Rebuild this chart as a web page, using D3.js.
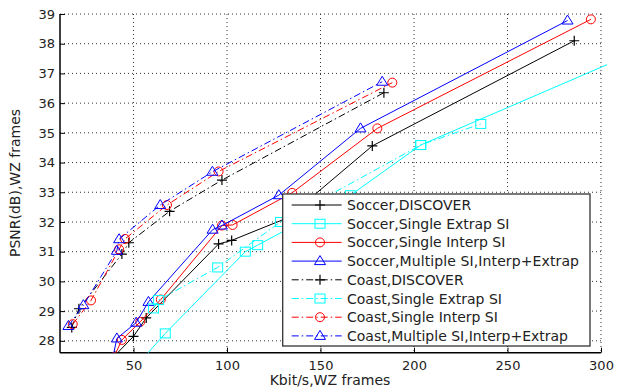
<!DOCTYPE html>
<html>
<head>
<meta charset="utf-8">
<script src="https://cdn.jsdelivr.net/npm/d3@7"></script>
<style>
body{margin:0;background:#fff;}
text{font-family:"DejaVu Sans",sans-serif;fill:#222;}
</style>
</head>
<body>
<script>
// series data, [kbit/s, PSNR dB]
var soccerDiscover=[[40,27.5],[50,28.15],[56.8,28.77],[95.5,31.26],[102.5,31.38],[132,32.13],[177.7,34.56],[285.7,38.1]];
var soccerExtrap=[[55,27.4],[67,28.25],[109.8,31.0],[116.4,31.22],[166,32.9],[203.6,34.59],[320,37.75]];
var soccerInterp=[[39.5,27.45],[43.8,28.03],[53.6,28.64],[64.6,29.39],[97.3,31.88],[103,31.9],[134.8,32.98],[180.4,35.15],[294.6,38.82]];
var soccerMulti=[[38.5,27.3],[41.1,28.08],[51.4,28.61],[58,29.31],[92.3,31.74],[97.3,31.88],[127.7,32.9],[171.4,35.15],[282.1,38.78]];
var coastDiscover=[[17,28.45],[20.8,29.08],[43.8,30.92],[47.5,31.3],[69.3,32.36],[97.3,33.41],[183.9,36.35]];
var coastExtrap=[[60.7,29.09],[63.4,29.37],[95,30.47],[128.6,32.0],[203.6,34.59],[235.7,35.3]];
var coastInterp=[[17.5,28.56],[27.3,29.36],[42.3,31.08],[45.5,31.43],[67.9,32.57],[95.5,33.7],[188.4,36.69]];
var coastMulti=[[15.2,28.5],[23.2,29.2],[41.1,31.03],[42.3,31.42],[64.3,32.57],[92.2,33.69],[183,36.72]];

var legendLabels=["Soccer,DISCOVER","Soccer,Single Extrap SI","Soccer,Single Interp SI","Soccer,Multiple SI,Interp+Extrap","Coast,DISCOVER","Coast,Single Extrap SI","Coast,Single Interp SI","Coast,Multiple SI,Interp+Extrap"];
var xTicks=[50,100,150,200,250,300];
var yTicks=[28,29,30,31,32,33,34,35,36,37,38,39];

var series=[
 {data:soccerDiscover,color:"#000",marker:"plus",dash:null},
 {data:soccerExtrap,color:"#00ffff",marker:"square",dash:null},
 {data:soccerInterp,color:"#ff0000",marker:"circle",dash:null},
 {data:soccerMulti,color:"#0000ff",marker:"triangle",dash:null},
 {data:coastDiscover,color:"#000",marker:"plus",dash:"7,3,1.5,3"},
 {data:coastExtrap,color:"#00ffff",marker:"square",dash:"7,3,1.5,3"},
 {data:coastInterp,color:"#ff0000",marker:"circle",dash:"7,3,1.5,3"},
 {data:coastMulti,color:"#0000ff",marker:"triangle",dash:"7,3,1.5,3"}
];

var width=623,height=389;
var pLeft=60,pRight=601,pTop=14,pBottom=352.7;

var svg=d3.select("body").append("svg").attr("width",width).attr("height",height);

var xscale=d3.scaleLinear().domain([10.7,300]).range([pLeft,pRight]);
var yscale=d3.scaleLinear().domain([27.6,39]).range([pBottom,pTop]);

svg.append("clipPath").attr("id","plotclip").append("rect")
 .attr("x",pLeft).attr("y",pTop-6).attr("width",pRight-pLeft+6).attr("height",pBottom-pTop+6);

// dotted grid
var grid=svg.append("g").attr("stroke","#333").attr("stroke-width",1).attr("stroke-dasharray","1,3");
grid.selectAll(".gx").data(xTicks).enter().append("line")
 .attr("x1",function(d){return xscale(d);}).attr("x2",function(d){return xscale(d);})
 .attr("y1",pTop).attr("y2",pBottom);
grid.selectAll(".gy").data(yTicks).enter().append("line")
 .attr("x1",pLeft).attr("x2",pRight)
 .attr("y1",function(d){return yscale(d);}).attr("y2",function(d){return yscale(d);});

// axes, ticks inside like matlab
var xaxis=d3.axisBottom(xscale).tickValues(xTicks).tickSizeInner(-5).tickSizeOuter(0).tickPadding(8);
var yaxis=d3.axisLeft(yscale).tickValues(yTicks).tickSizeInner(-5).tickSizeOuter(0).tickPadding(5);
var gx=svg.append("g").attr("transform","translate(0,"+pBottom+")").call(xaxis);
var gy=svg.append("g").attr("transform","translate("+pLeft+",0)").call(yaxis);
gx.select(".domain").attr("d","M"+pLeft+",0H"+pRight).attr("stroke","#000").attr("stroke-width",1.5);
gy.select(".domain").attr("d","M0,"+pTop+"V"+pBottom).attr("stroke","#000").attr("stroke-width",1.5);
svg.selectAll(".tick text").attr("font-size",13).attr("font-family","DejaVu Sans").attr("fill","#222");
svg.selectAll(".tick line").attr("stroke","#000");

var plot=svg.append("g").attr("clip-path","url(#plotclip)");
var line=d3.line().x(function(d){return xscale(d[0]);}).y(function(d){return yscale(d[1]);});

function drawMarker(g,type,color,cx,cy){
	if(type=="plus"){
		g.append("path").attr("d","M"+(cx-5)+","+cy+"H"+(cx+5)+"M"+cx+","+(cy-5)+"V"+(cy+5))
		 .attr("stroke",color).attr("stroke-width",1.2).attr("fill","none");
	}else if(type=="square"){
		g.append("rect").attr("x",cx-5).attr("y",cy-4.5).attr("width",10).attr("height",9)
		 .attr("stroke",color).attr("stroke-width",1).attr("fill","none");
	}else if(type=="circle"){
		g.append("circle").attr("cx",cx).attr("cy",cy).attr("r",4.5)
		 .attr("stroke",color).attr("stroke-width",1).attr("fill","none");
	}else{
		g.append("path").attr("d","M"+cx+","+(cy-5.5)+"L"+(cx+5.5)+","+(cy+3.5)+"L"+(cx-5.5)+","+(cy+3.5)+"Z")
		 .attr("stroke",color).attr("stroke-width",1).attr("fill","none");
	}
}

series.forEach(function(s){
	plot.append("path").data([s.data]).attr("d",line).attr("fill","none")
	 .attr("stroke",s.color).attr("stroke-width",1).attr("stroke-dasharray",s.dash);
	s.data.forEach(function(d){drawMarker(plot,s.marker,s.color,xscale(d[0]),yscale(d[1]));});
});

// legend
var lg=svg.append("g");
lg.append("rect").attr("x",282.7).attr("y",194).attr("width",307.3).attr("height",152)
 .attr("fill","#fff").attr("stroke","#333").attr("stroke-width",1.3);
series.forEach(function(s,i){
	var yy=205+i*18.7;
	lg.append("line").attr("x1",291.7).attr("x2",341.7).attr("y1",yy).attr("y2",yy)
	 .attr("stroke",s.color).attr("stroke-width",1).attr("stroke-dasharray",s.dash);
	drawMarker(lg,s.marker,s.color,320,yy);
	lg.append("text").attr("x",347).attr("y",yy+5).attr("font-size",14).attr("textLength",s===series[3]?232:null).text(legendLabels[i]);
});

svg.append("text").attr("x",330).attr("y",385).attr("text-anchor","middle").attr("font-size",14).text("Kbit/s,WZ frames");
svg.append("text").attr("transform","translate(20,183) rotate(-90)").attr("text-anchor","middle").attr("font-size",14).text("PSNR(dB),WZ frames");
</script>
</body>
</html>
